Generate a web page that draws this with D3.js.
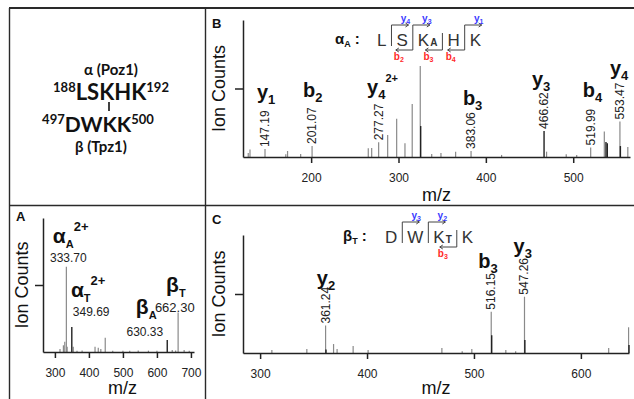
<!DOCTYPE html>
<html><head><meta charset="utf-8">
<script src="https://cdn.jsdelivr.net/npm/d3@7"></script>
<style>body{margin:0;background:#fff} svg{display:block}</style>
</head><body><div id="chart"></div>
<script>
// ── Data ────────────────────────────────────────────────────────────────
// peaks are [m/z, relative intensity 0..100]
const aTicks = [300, 400, 500, 600, 700]
const aPeaks = [[315, 2.2], [325, 5], [329, 7.7], [333.7, 63.7], [336, 4], [354, 4], [365, 1], [380, 1.2], [418, 4], [427.5, 3.2], [435, 2.2], [448, 10.7], [470, 1], [500, 1], [520, 1], [545, 1.2], [575, 1], [600, 1], [645, 1.5], [655, 1.2], [662.3, 29.5], [680, 1.5], [695, 1]]
const aPeaksDark = [[349.69, 18.7], [630.33, 9]]
const aIons = [
  { main: 'α', sub: 'A', sup: '2+', mz: 294, at: 81 },
  { main: 'α', sub: 'T', sup: '2+', mz: 347, at: 41 },
  { main: 'β', sub: 'A', sup: '', mz: 538, at: 28 },
  { main: 'β', sub: 'T', sup: '', mz: 627, at: 45 }
]
const aValues = [
  { text: '333.70', mz: 285.5, at: 67 },
  { text: '349.69', mz: 352.7, at: 27 },
  { text: '630.33', mz: 510.6, at: 12 },
  { text: '662.30', mz: 594, at: 30 }
]

const bTicks = [200, 300, 400, 500]
const bPeaks = [[128, 3], [130, 5.5], [147.19, 5.8], [171, 2], [173, 4.4], [188, 2.2], [201.07, 8], [265.4, 6.4], [269.3, 6.6], [277.27, 10.7], [287.6, 16], [297.9, 28], [307.4, 10], [315.7, 38.7], [324.9, 66.4], [338, 2.2], [348.6, 3], [365.4, 3.9], [383.06, 4.4], [418, 1.5], [469.5, 3.9], [492, 2], [504, 1.5], [519.99, 7], [535.6, 18.6], [553.47, 26], [562.5, 7.3]]
const bPeaksDark = [[325.4, 22.6], [466.62, 19], [537.5, 11], [539, 10], [554, 8]]
const bIons = [
  { main: 'y', sub: '1', sup: '', mz: 138, at: 42 },
  { main: 'b', sub: '2', sup: '', mz: 190.6, at: 44 },
  { main: 'y', sub: '4', sup: '2+', mz: 264, at: 46 },
  { main: 'b', sub: '3', sup: '', mz: 373.7, at: 38 },
  { main: 'y', sub: '3', sup: '', mz: 452.7, at: 52 },
  { main: 'b', sub: '4', sup: '', mz: 511, at: 44 },
  { main: 'y', sub: '4', sup: '', mz: 542, at: 60 }
]
const bLabelled = ['147.19', '201.07', '277.27', '383.06', '466.62', '519.99', '553.47']
const bResidues = ['L', 'S', 'K', 'H', 'K']
const bResidueSubs = ['', '', 'A', '', '']
const bYCuts = [[0, '4'], [1, '3'], [3, '1']]   // [cleavage after residue i, ion number]
const bBCuts = [[1, '2'], [2, '3'], [3, '4']]

const cTicks = [300, 400, 500, 600]
const cPeaks = [[311, 2.5], [343.7, 3.4], [361.24, 23.3], [368.7, 7.6], [372, 3.4], [387, 6], [401, 2.5], [470, 4.2], [489, 1.5], [498, 3.4], [516.15, 35], [529.8, 2.5], [539, 1.5], [547.26, 47.7], [626, 4.2], [644.6, 21.8]]
const cPeaksDark = [[361.6, 3], [516.6, 15], [547.6, 11], [645, 6.8]]
const cIons = [
  { main: 'y', sub: '2', sup: '', mz: 353, at: 58 },
  { main: 'b', sub: '3', sup: '', mz: 504, at: 72 },
  { main: 'y', sub: '3', sup: '', mz: 537, at: 85 }
]
const cLabelled = ['361.24', '516.15', '547.26']
const cResidues = ['D', 'W', 'K', 'K']
const cResidueSubs = ['', '', 'T', '']
const cYCuts = [[0, '3'], [1, '2']]
const cBCuts = [[2, '3']]

// ── SVG ─────────────────────────────────────────────────────────────────
const W = 634, H = 399
const FONT = '"Liberation Sans", Arial, sans-serif'
const svg = d3.select('#chart').append('svg').attr('width', W).attr('height', H)
svg.append('rect').attr('width', W).attr('height', H).attr('fill', '#fff')

// panel frame
const frame = svg.append('g').attr('stroke', '#2a2a2a').attr('stroke-width', 1.4)
frame.append('line').attr('x1', 9).attr('x2', W).attr('y1', 8).attr('y2', 8).attr('stroke-width', 2)
frame.append('line').attr('x1', 9.5).attr('x2', 9.5).attr('y1', 8).attr('y2', H)
frame.append('line').attr('x1', 205.5).attr('x2', 205.5).attr('y1', 8).attr('y2', H)
frame.append('line').attr('x1', 9).attr('x2', W).attr('y1', 205.5).attr('y2', 205.5)

// ── Crosslink schematic (top-left) ──────────────────────────────────────
const schem = svg.append('g').attr('font-family', 'Lato, "Open Sans", sans-serif').attr('font-weight', 700).attr('fill', '#111')
schem.append('text').attr('x', 111).attr('y', 75).attr('text-anchor', 'middle').style('font-size', '15px').text('α (Poz1)')
const pep1 = schem.append('text').attr('x', 111).attr('y', 100).attr('text-anchor', 'middle')
pep1.append('tspan').style('font-size', '13px').attr('dy', -8).text('188')
pep1.append('tspan').style('font-size', '22px').attr('dy', 8).text('LSKHK')
pep1.append('tspan').style('font-size', '13px').attr('dy', -8).text('192')
schem.append('line').attr('x1', 109).attr('x2', 109).attr('y1', 102).attr('y2', 111).attr('stroke', '#111').attr('stroke-width', 1.6)
const pep2 = schem.append('text').attr('x', 98).attr('y', 132).attr('text-anchor', 'middle')
pep2.append('tspan').style('font-size', '13px').attr('dy', -8).text('497')
pep2.append('tspan').style('font-size', '21px').attr('dy', 8).text('DWKK')
pep2.append('tspan').style('font-size', '13px').attr('dy', -8).text('500')
schem.append('text').attr('x', 101).attr('y', 152).attr('text-anchor', 'middle').style('font-size', '15px').text('β (Tpz1)')

// ── Spectrum helper ─────────────────────────────────────────────────────
function drawSpectrum(cfg) {
  const g = svg.append('g').attr('font-family', FONT)
  const x = d3.scaleLinear().domain(cfg.domain).range([cfg.left, cfg.right])
  const y = d3.scaleLinear().domain([0, 100]).range([cfg.bottom, cfg.top])

  // peaks
  g.selectAll('.pk').data(cfg.peaks).join('line')
    .attr('x1', d => x(d[0])).attr('x2', d => x(d[0]))
    .attr('y1', y(0)).attr('y2', d => y(d[1]))
    .attr('stroke', '#8a8a8a').attr('stroke-width', 1.2)
  g.selectAll('.pkd').data(cfg.dark).join('line')
    .attr('x1', d => x(d[0])).attr('x2', d => x(d[0]))
    .attr('y1', y(0)).attr('y2', d => y(d[1]))
    .attr('stroke', '#222').attr('stroke-width', 1.4)

  // axes
  const xAxis = g.append('g').attr('transform', `translate(0,${cfg.bottom})`)
    .call(d3.axisBottom(x).tickValues(cfg.ticks).tickSize(6).tickSizeOuter(0).tickPadding(10))
  xAxis.select('.domain').attr('stroke', '#222').attr('stroke-width', 1.5)
  xAxis.selectAll('.tick line').attr('stroke', '#222').attr('stroke-width', 1.5)
  xAxis.selectAll('.tick text').attr('fill', '#222').style('font-size', '12px').attr('font-family', FONT)
  const yAxis = g.append('g').attr('transform', `translate(${cfg.left},0)`)
    .call(d3.axisLeft(y).tickValues([50]).tickSize(8).tickSizeOuter(0).tickFormat(''))
  yAxis.select('.domain').attr('stroke', '#222').attr('stroke-width', 1.5)
  yAxis.selectAll('.tick line').attr('stroke', '#222').attr('stroke-width', 1.5)

  g.append('text').attr('x', (cfg.left + cfg.right) / 2 + (cfg.mzShift || 0)).attr('y', Math.min(cfg.bottom + 44, H - 5))
    .attr('text-anchor', 'middle').style('font-size', '18px').attr('fill', '#111').text('m/z')
  g.append('text').attr('transform', `translate(${cfg.ionX},${y(50)}) rotate(-90)`)
    .attr('text-anchor', 'middle').style('font-size', '18px').attr('fill', '#111').text('Ion Counts')
  g.append('text').attr('x', cfg.letterX).attr('y', cfg.letterY).style('font-size', '13px')
    .attr('font-weight', 700).attr('fill', '#111').text(cfg.letter)

  // ion labels
  cfg.ions.forEach(d => {
    const t = g.append('text').attr('x', x(d.mz)).attr('y', y(d.at))
      .attr('font-weight', 700).attr('fill', '#111').style('font-size', cfg.ionSize + 'px')
    t.append('tspan').text(d.main)
    t.append('tspan').style('font-size', cfg.subSize + 'px').attr('dy', 5).text(d.sub)
    if (d.sup) t.append('tspan').style('font-size', cfg.supSize + 'px').attr('dy', -17).text(d.sup)
  })

  // rotated peak values
  const allPeaks = cfg.peaks.concat(cfg.dark)
  ;(cfg.labelled || []).forEach(s => {
    const mz = +s
    const pk = allPeaks.find(p => Math.abs(p[0] - mz) < 0.01)
    g.append('text').attr('transform', `translate(${x(mz) + 4},${y(pk[1]) - 2}) rotate(-90)`)
      .style('font-size', '12px').attr('fill', '#222').text(s)
  })
  // horizontal peak values (panel A)
  ;(cfg.values || []).forEach(d => {
    g.append('text').attr('x', x(d.mz)).attr('y', y(d.at)).style('font-size', (d.size || 12) + 'px')
      .attr('fill', '#222').text(d.text)
  })
  return { g, x, y }
}

// ── Fragment-map helper ─────────────────────────────────────────────────
function drawSequence(g, cfg) {
  const name = g.append('text').attr('x', cfg.nameX).attr('y', cfg.base - 2).attr('font-weight', 700)
    .attr('fill', '#111').style('font-size', '15px')
  name.append('tspan').text(cfg.name)
  name.append('tspan').style('font-size', '9px').attr('dy', 3).text(cfg.nameSub)
  name.append('tspan').attr('dy', -3).attr('dx', 4).text(':')

  let cx = cfg.startX
  const cuts = []
  cfg.residues.forEach((r, i) => {
    const t = g.append('text').attr('x', cx).attr('y', cfg.base).style('font-size', '17px').attr('fill', '#333').text(r)
    cx += t.node().getComputedTextLength()
    if (cfg.subs[i]) {
      const s = g.append('text').attr('x', cx + 1).attr('y', cfg.base).style('font-size', '10px')
        .attr('font-weight', 700).attr('fill', '#333').text(cfg.subs[i])
      cx += s.node().getComputedTextLength() + 1
    }
    if (i < cfg.residues.length - 1) { cuts.push(cx + 5); cx += 10 }
  })
  const yTop = cfg.base - 21, yBot = cfg.base + 4
  const hasY = new Set(cfg.yCuts.map(c => c[0])), hasB = new Set(cfg.bCuts.map(c => c[0]))
  const lg = g.append('g').attr('stroke', '#444').attr('stroke-width', 1).attr('fill', 'none')
  cuts.forEach((cxv, i) => {
    const y1 = hasY.has(i) ? yTop : cfg.base - 13
    const y2 = hasB.has(i) ? yBot : cfg.base
    lg.append('line').attr('x1', cxv).attr('x2', cxv).attr('y1', y1).attr('y2', y2)
  })
  cfg.yCuts.forEach(([i, n]) => {
    const x0 = cuts[i], x1 = x0 + 17
    lg.append('path').attr('d', `M${x0},${yTop}H${x1}M${x1 - 3},${yTop - 2}L${x1},${yTop}L${x1 - 3},${yTop + 2}`)
    const t = g.append('text').attr('x', x0 + 14).attr('y', yTop - 3).attr('text-anchor', 'middle')
      .attr('font-weight', 700).attr('fill', '#3a3aff').style('font-size', '10px')
    t.append('tspan').text('y'); t.append('tspan').style('font-size', '7px').attr('dy', 2).text(n)
  })
  cfg.bCuts.forEach(([i, n]) => {
    const x0 = cuts[i], x1 = x0 - 17
    lg.append('path').attr('d', `M${x0},${yBot}H${x1}M${x1 + 3},${yBot - 2}L${x1},${yBot}L${x1 + 3},${yBot + 2}`)
    const t = g.append('text').attr('x', x0 - 14).attr('y', yBot + 10).attr('text-anchor', 'middle')
      .attr('font-weight', 700).attr('fill', '#ff2a2a').style('font-size', '10px')
    t.append('tspan').text('b'); t.append('tspan').style('font-size', '7px').attr('dy', 2).text(n)
  })
}

// ── Panel A ─────────────────────────────────────────────────────────────
drawSpectrum({
  left: 43, right: 194, top: 218, bottom: 352, domain: [265, 709], ticks: aTicks,
  peaks: aPeaks, dark: aPeaksDark, ions: aIons, values: aValues.map((d, i) => ({ ...d, size: i === 3 ? 13 : 12 })),
  ionSize: 21, subSize: 11, supSize: 13, ionX: 28, letter: 'A', letterX: 16, letterY: 221, mzShift: 4
})

// ── Panel B ─────────────────────────────────────────────────────────────
const pb = drawSpectrum({
  left: 243, right: 630, top: 20, bottom: 157, domain: [122, 565], ticks: bTicks,
  peaks: bPeaks, dark: bPeaksDark, ions: bIons, labelled: bLabelled,
  ionSize: 20, subSize: 13, supSize: 11, ionX: 225, letter: 'B', letterX: 212, letterY: 28
})
drawSequence(pb.g, { name: 'α', nameSub: 'A', nameX: 335, base: 46, startX: 377,
  residues: bResidues, subs: bResidueSubs, yCuts: bYCuts, bCuts: bBCuts })

// ── Panel C ─────────────────────────────────────────────────────────────
const pc = drawSpectrum({
  left: 243, right: 629, top: 235, bottom: 353, domain: [284, 645], ticks: cTicks,
  peaks: cPeaks, dark: cPeaksDark, ions: cIons, labelled: cLabelled,
  ionSize: 20, subSize: 13, supSize: 11, ionX: 225, letter: 'C', letterX: 212, letterY: 224
})
drawSequence(pc.g, { name: 'β', nameSub: 'T', nameX: 343, base: 243, startX: 385,
  residues: cResidues, subs: cResidueSubs, yCuts: cYCuts, bCuts: cBCuts })
</script>
</body></html>
